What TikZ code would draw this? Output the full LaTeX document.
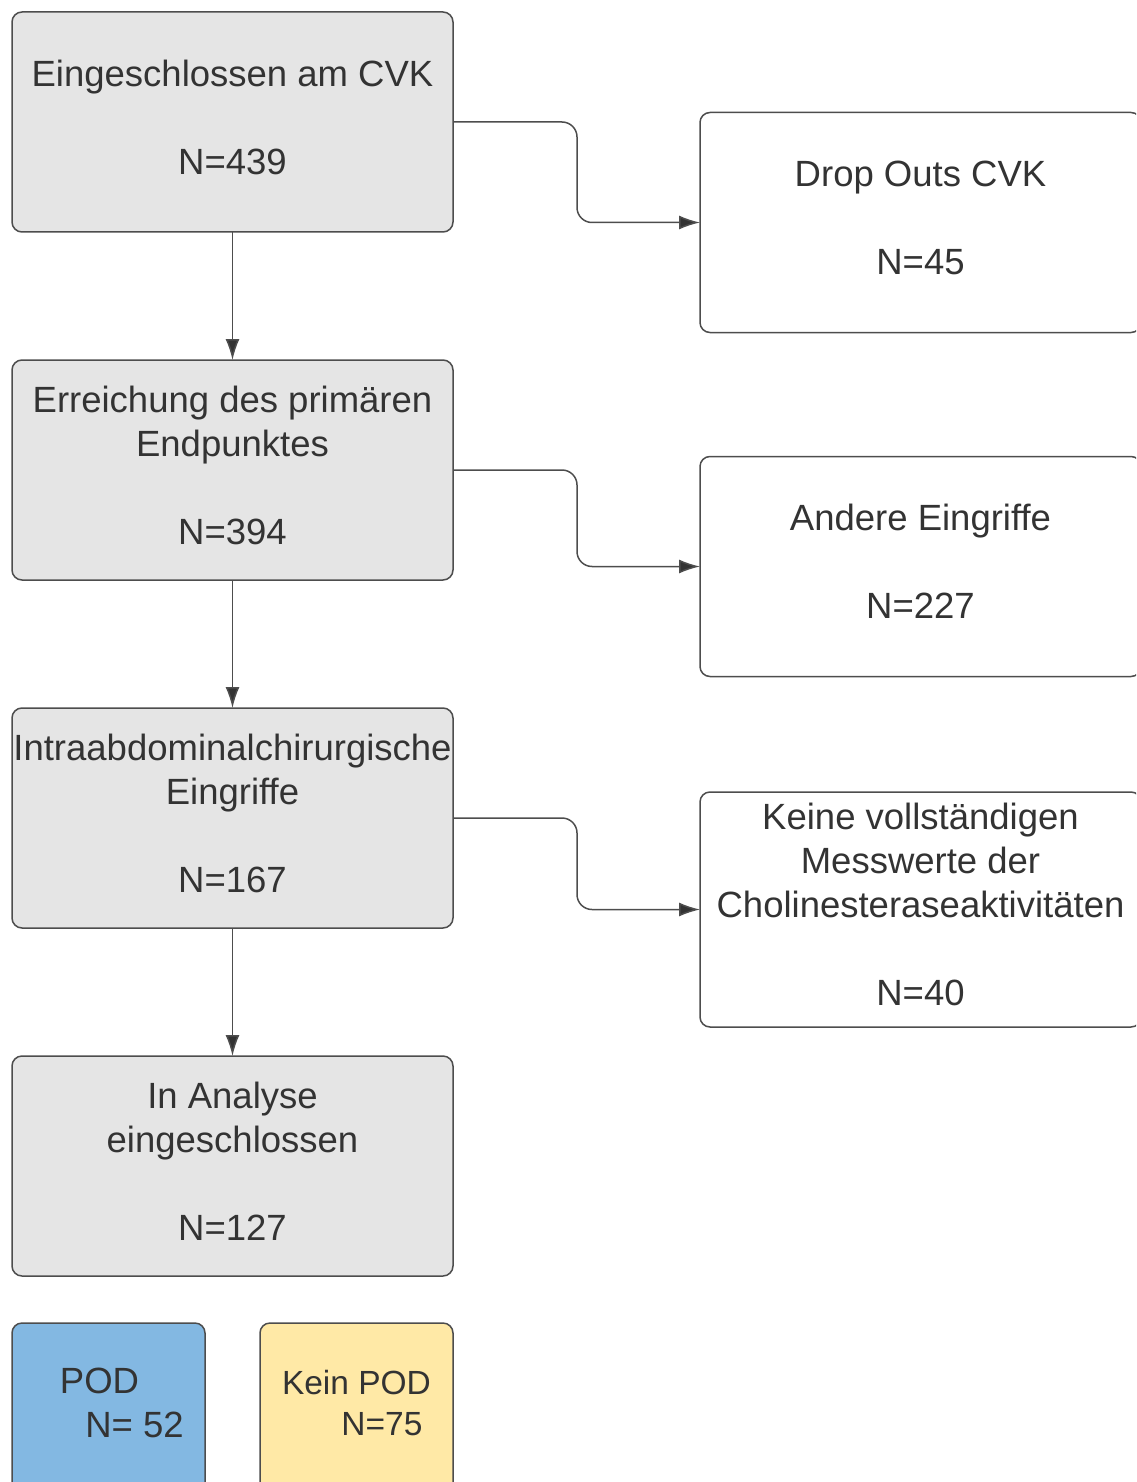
\documentclass[tikz,border=0pt]{standalone}
\usepackage{fontspec}
\setmainfont{Liberation Sans}
\usetikzlibrary{positioning,arrows.meta}
\definecolor{boxgray}{HTML}{E5E5E5}
\definecolor{linegray}{HTML}{4D4D4D}
\definecolor{textgray}{HTML}{333333}
\definecolor{podblue}{HTML}{83B8E2}
\definecolor{podyellow}{HTML}{FFE9A6}

\begin{document}
\begin{tikzpicture}[x=0.5pt, y=-0.5pt,
                    >={Latex[length=10.5pt,width=7pt,fill=textgray]},
                    box/.style={draw=linegray, line width=0.75pt, rectangle, rounded corners=5pt, align=center, text=textgray, font=\fontsize{18.25}{22}\selectfont, minimum width=220.5pt, minimum height=110pt, inner sep=0pt, outer sep=0pt, text depth=5pt},
                    grbox/.style={box, fill=boxgray},
                    whbox/.style={box, fill=white},
                    podbox/.style={box, minimum width=96.5pt, minimum height=85pt},
                    ra/.style={->, draw=linegray, line width=0.75pt, rounded corners=7.5pt}]

\clip (0,0) rectangle (1136,1482);

\node [grbox] (incl) at (232.5,122) {Eingeschlossen am CVK\\[22pt]N=439};
\node [grbox, below=64pt of incl] (endp) {Erreichung des primären\\Endpunktes\\[22pt]N=394};
\node [grbox, below=64pt of endp] (surg) {Intraabdominalchirurgische\\Eingriffe\\[22pt]N=167};
\node [grbox, below=64pt of surg] (anal) {In Analyse\\eingeschlossen\\[22pt]N=127};

\node [whbox] (drop) at (920.5,222.5) {Drop Outs CVK\\[22pt]N=45};
\node [whbox] (other) at (920.5,566.5) {Andere Eingriffe\\[22pt]N=227};
\node [whbox, minimum height=117.5pt] (chol) at (920.5,909.5) {Keine vollständigen\\Messwerte der\\Cholinesteraseaktivitäten\\[22pt]N=40};

\node [podbox, fill=podblue, below right=23.5pt and 0pt of anal.south west] (pod) {POD\hspace*{9pt}\\\hspace*{26pt}N= 52};
\node [podbox, fill=podyellow, font=\fontsize{16.75}{20.5}\selectfont, below left=23.5pt and 0pt of anal.south east] (nopod) {Kein POD\\\hspace*{25.5pt}N=75};

\draw [ra] (incl) -- (endp);
\draw [ra] (endp) -- (surg);
\draw [ra] (surg) -- (anal);
\draw [ra] (incl.east) -- ++(124,0) |- (drop.west);
\draw [ra] (endp.east) -- ++(124,0) |- (other.west);
\draw [ra] (surg.east) -- ++(124,0) |- (chol.west);

\end{tikzpicture}
\end{document}
